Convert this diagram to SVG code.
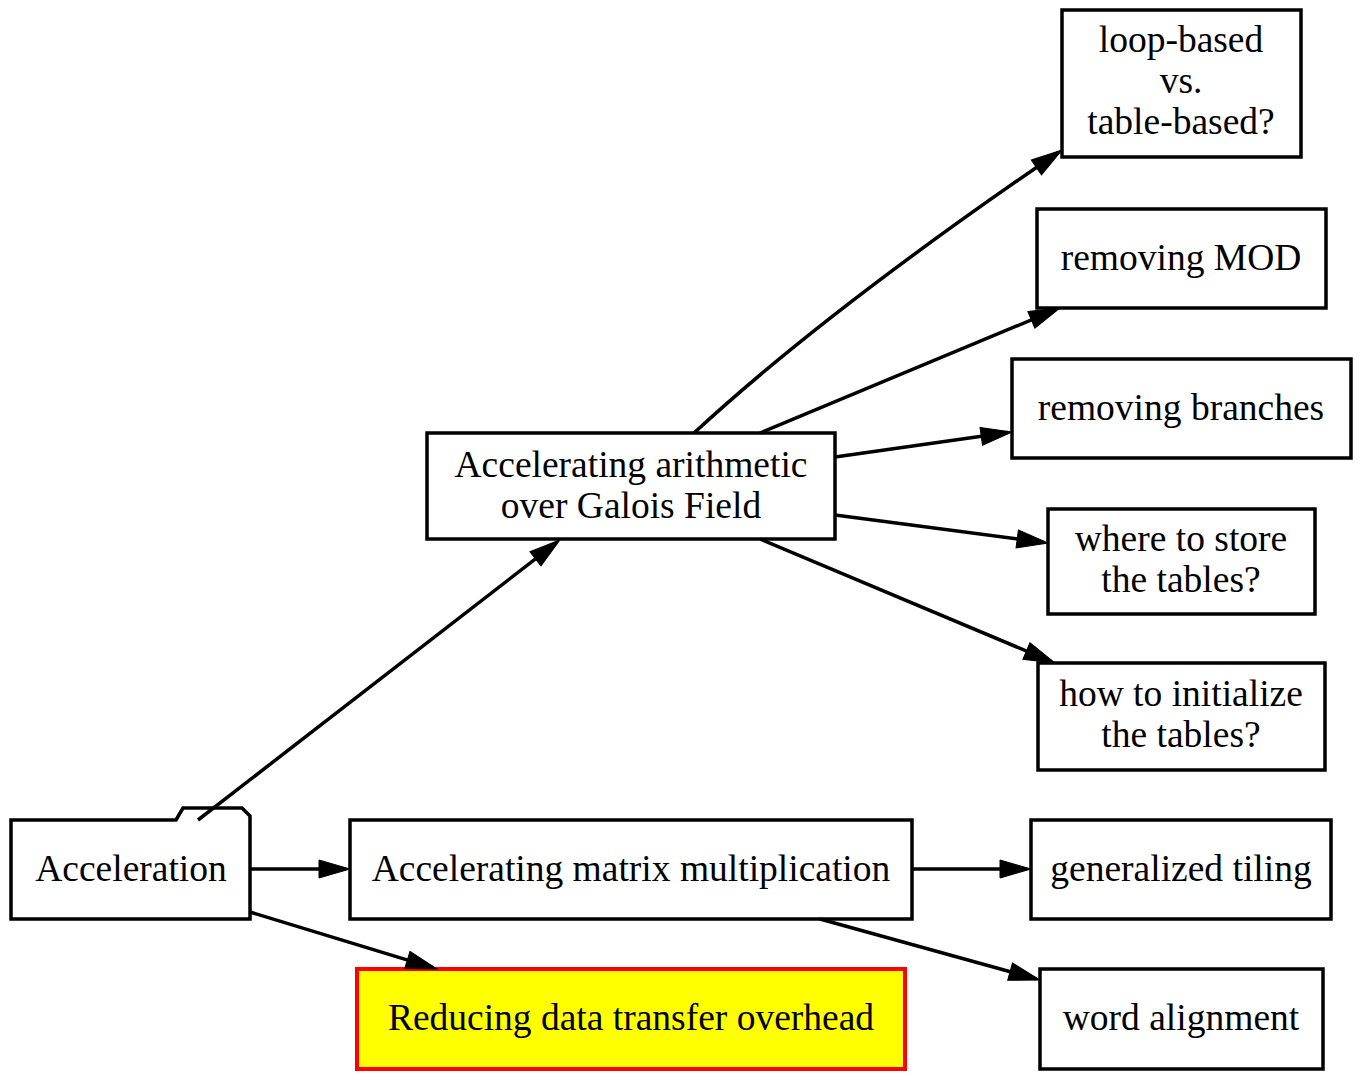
<svg xmlns="http://www.w3.org/2000/svg" width="1362" height="1081" viewBox="0 0 1362 1081">
<style>
.n{fill:#fff;stroke:#000;stroke-width:3.5}
.t{font-family:"Liberation Serif","Times New Roman",serif;font-size:37.5px;text-anchor:middle;fill:#000}
.e{fill:none;stroke:#000;stroke-width:3.5;marker-end:url(#ah)}
</style>
<defs>
<marker id="ah" markerUnits="userSpaceOnUse" markerWidth="34" markerHeight="20" refX="27" refY="9" orient="auto" overflow="visible">
<path d="M0,0 L31,9 L0,18 z" fill="#000" stroke="#000" stroke-width="1"/>
</marker>
</defs>
<rect width="1362" height="1081" fill="#fff"/>
<g id="acceleration">
<path class="n" d="M11,820 L176,820 L183,808 L242,808 L250,816 L250,919 L11,919 Z"/>
<text class="t" x="131" y="881">Acceleration</text>
</g>
<g id="arith">
<rect class="n" x="427" y="433" width="408" height="106"/>
<text class="t" x="631" y="477">Accelerating arithmetic</text>
<text class="t" x="631" y="518">over Galois Field</text>
</g>
<g id="matrix">
<rect class="n" x="350" y="820" width="562" height="99"/>
<text class="t" x="631" y="881">Accelerating matrix multiplication</text>
</g>
<g id="reduce">
<rect x="357" y="969" width="548" height="100" fill="#ffff00" stroke="#ff0000" stroke-width="4"/>
<text class="t" x="631" y="1030">Reducing data transfer overhead</text>
</g>
<g id="loop">
<rect class="n" x="1062" y="10" width="239" height="147"/>
<text class="t" x="1181" y="52">loop-based</text>
<text class="t" x="1181" y="93">vs.</text>
<text class="t" x="1181" y="134">table-based?</text>
</g>
<g id="mod">
<rect class="n" x="1037" y="209" width="289" height="99"/>
<text class="t" x="1181" y="270">removing MOD</text>
</g>
<g id="branches">
<rect class="n" x="1012" y="359" width="339" height="99"/>
<text class="t" x="1181" y="420">removing branches</text>
</g>
<g id="where">
<rect class="n" x="1048" y="509" width="267" height="105"/>
<text class="t" x="1181" y="551">where to store</text>
<text class="t" x="1181" y="592">the tables?</text>
</g>
<g id="how">
<rect class="n" x="1038" y="663" width="287" height="107"/>
<text class="t" x="1181" y="706">how to initialize</text>
<text class="t" x="1181" y="747">the tables?</text>
</g>
<g id="tiling">
<rect class="n" x="1031" y="820" width="300" height="99"/>
<text class="t" x="1181" y="881">generalized tiling</text>
</g>
<g id="word">
<rect class="n" x="1040" y="969" width="283" height="100"/>
<text class="t" x="1181" y="1030">word alignment</text>
</g>
<g id="edges">
<line class="e" x1="198" y1="820" x2="556.8" y2="542.4"/>
<line class="e" x1="250" y1="869" x2="346" y2="869"/>
<line class="e" x1="250" y1="912" x2="433.2" y2="967.8"/>
<path class="e" d="M694,433 C800,335 930,240 1058.7,152.2"/>
<line class="e" x1="760" y1="433" x2="1056.3" y2="309.5"/>
<line class="e" x1="835" y1="457" x2="1008" y2="432.6"/>
<line class="e" x1="835" y1="515" x2="1044" y2="542.5"/>
<line class="e" x1="760" y1="539" x2="1051.3" y2="661.5"/>
<line class="e" x1="912" y1="869" x2="1027" y2="869"/>
<line class="e" x1="820" y1="919" x2="1036.1" y2="978.9"/>
</g>
</svg>
